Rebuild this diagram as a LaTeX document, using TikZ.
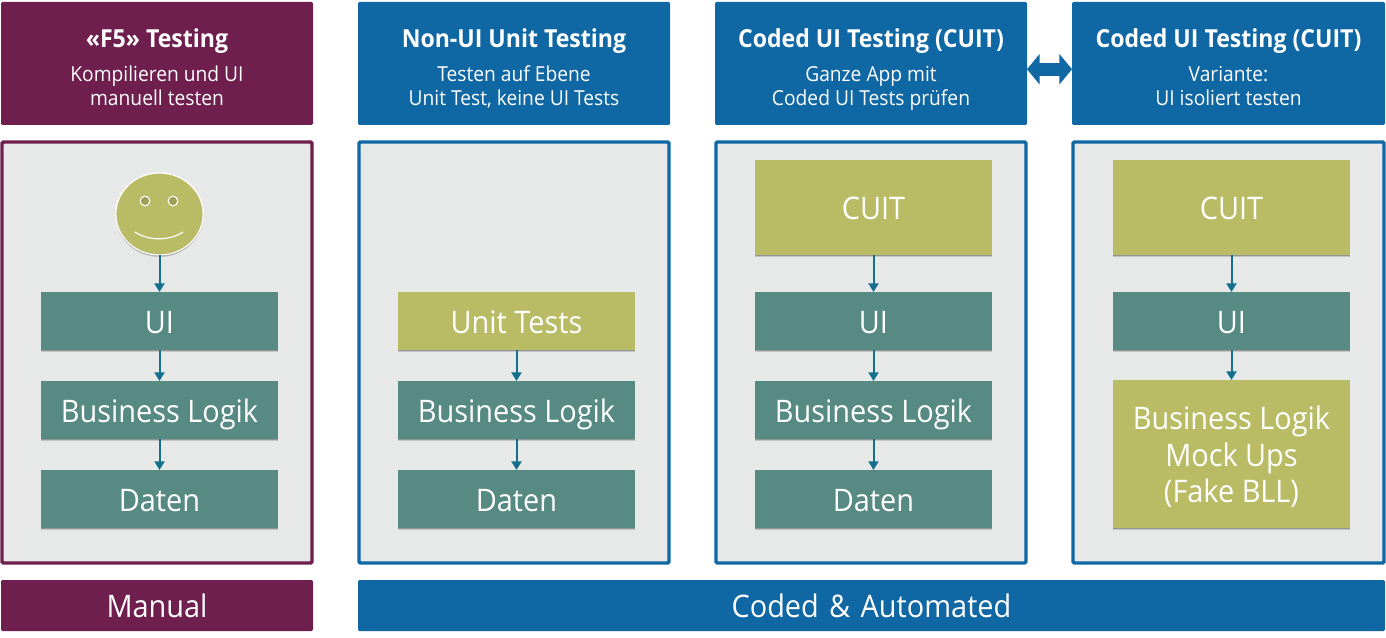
\documentclass[tikz,border=0pt]{standalone}
\usepackage{fontspec}
\setmainfont[FakeStretch=0.93]{Open Sans}
\usetikzlibrary{shadows,shapes.geometric,arrows.meta}
\definecolor{wine}{HTML}{6E1F4E}
\definecolor{navy}{HTML}{0F67A4}
\definecolor{panelgrey}{HTML}{E7E9E9}
\definecolor{tealbox}{HTML}{568A82}
\definecolor{olive}{HTML}{B9BC65}
\definecolor{linkc}{HTML}{14708C}
\newcommand{\boxat}[7]{%
  \node[#6,minimum width={(#4-#2)*0.75pt},minimum height={(#5-#3)*0.75pt}] (#1) at ({(#2+#4)/2},{(#3+#5)/2}) {#7};}
\newcommand{\htxt}[3]{\vbox{\offinterlineskip\halign{\hfil##\hfil\cr
  \rule{0pt}{20.25pt}\fontsize{18.6}{22}\selectfont\textbf{\smash{#1}}\cr
  \rule{0pt}{25.5pt}\fontsize{15.5}{18}\selectfont\smash{#2}\cr
  \rule{0pt}{18pt}\fontsize{15.5}{18}\selectfont\smash{#3}\cr}}}
\tikzset{
  plainbox/.style={inner sep=0pt,outer sep=0pt,text=white,align=center},
  headerbox/.style={plainbox,rounded corners=1pt},
  headwine/.style={headerbox,fill=wine},
  headnavy/.style={headerbox,fill=navy},
  panelbox/.style={plainbox,fill=panelgrey,line width=2.6pt,rounded corners=1pt},
  softshadow/.style={drop shadow={shadow xshift=0pt,shadow yshift=-0.8pt,opacity=.25,fill=black},
    drop shadow={shadow xshift=0pt,shadow yshift=-1.6pt,opacity=.15,fill=black}},
  layerbase/.style={plainbox,font=\fontsize{23.3}{27.5}\selectfont,softshadow},
  layerbox/.style={layerbase,text height=18pt,text depth=0pt},
  tealayer/.style={layerbox,fill=tealbox},
  olivelayer/.style={layerbox,fill=olive},
  olivemulti/.style={layerbase,fill=olive},
  linkarrow/.style={draw=linkc,line width=1.5pt,-{Triangle[length=6.5pt,width=7.5pt]}},
  swaparrow/.style={draw=navy,line width=9.75pt,
    {Triangle[length=9.5pt,width=22.5pt]}-{Triangle[length=9.5pt,width=22.5pt]}},
  footbox/.style={headerbox,font=\fontsize{23.3}{27.5}\selectfont,text height=18pt,text depth=0pt},
}
\begin{document}
\begin{tikzpicture}[x=0.75pt,y=-0.75pt]
\useasboundingbox (0,0) rectangle (1386,638);
% headers
\boxat{h1}{1}{2}{313}{125}{headwine}{\htxt{«F5» Testing}{Kompilieren und UI}{manuell testen}}
\boxat{h2}{358}{2}{670}{125}{headnavy}{\htxt{Non-UI Unit Testing}{Testen auf Ebene}{Unit Test, keine UI Tests}}
\boxat{h3}{715}{2}{1027}{125}{headnavy}{\htxt{Coded UI Testing (CUIT)}{Ganze App mit}{Coded UI Tests prüfen}}
\boxat{h4}{1072}{2}{1385}{125}{headnavy}{\htxt{Coded UI Testing (CUIT)}{Variante:}{UI isoliert testen}}
\draw[swaparrow] ([yshift=-4.3pt]h3.east) -- ([yshift=-4.3pt]h4.west);
% panels
\boxat{p1}{2}{142}{312}{563}{panelbox,draw=wine}{}
\boxat{p2}{359}{142}{669}{563}{panelbox,draw=navy}{}
\boxat{p3}{716}{142}{1026}{563}{panelbox,draw=navy}{}
\boxat{p4}{1073}{142}{1384}{563}{panelbox,draw=navy}{}
% column 1
\node[ellipse,fill=olive,draw=white,line width=.9pt,inner sep=0pt,outer sep=0pt,minimum width=65.5pt,minimum height=61.5pt,softshadow] (smile) at (159.5,214) {};
\node[circle,fill=olive!85!black,draw=white,line width=.8pt,inner sep=0pt,minimum size=7.2pt] (eyeL) at (145,201) {};
\node[circle,fill=olive!85!black,draw=white,line width=.8pt,inner sep=0pt,minimum size=7.2pt] (eyeR) at (173,201) {};
\draw[white,line width=.9pt] (135,232) .. controls (148,241) and (170,241) .. (183,232);
\boxat{a1}{41}{292}{278}{350}{tealayer}{UI}
\boxat{a2}{41}{381}{278}{439}{tealayer}{Business Logik}
\boxat{a3}{41}{470}{278}{528}{tealayer}{Daten}
% column 2
\boxat{b1}{398}{292}{635}{350}{olivelayer}{Unit Tests}
\boxat{b2}{398}{381}{635}{439}{tealayer}{Business Logik}
\boxat{b3}{398}{470}{635}{528}{tealayer}{Daten}
% column 3
\boxat{c0}{755}{160}{992}{255}{olivelayer}{CUIT}
\boxat{c1}{755}{292}{992}{350}{tealayer}{UI}
\boxat{c2}{755}{381}{992}{439}{tealayer}{Business Logik}
\boxat{c3}{755}{470}{992}{528}{tealayer}{Daten}
% column 4
\boxat{d0}{1113}{160}{1350}{255}{olivelayer}{CUIT}
\boxat{d1}{1113}{292}{1350}{350}{tealayer}{UI}
\boxat{d2}{1113}{380}{1350}{528}{olivemulti}{\rule{0pt}{22pt}Business Logik\\Mock Ups\\(Fake BLL)}
% connectors
\draw[linkarrow] (smile.south) -- (a1.north);
\draw[linkarrow] (a1) -- (a2);
\draw[linkarrow] (a2) -- (a3);
\draw[linkarrow] (b1) -- (b2);
\draw[linkarrow] (b2) -- (b3);
\draw[linkarrow] (c0) -- (c1);
\draw[linkarrow] (c1) -- (c2);
\draw[linkarrow] (c2) -- (c3);
\draw[linkarrow] (d0) -- (d1);
\draw[linkarrow] (d1) -- (d2);
% footers
\boxat{f1}{1}{580}{313}{631}{footbox,fill=wine}{Manual}
\boxat{f2}{358}{580}{1385}{631}{footbox,fill=navy}{Coded\,\,\&\,\,Automated}
\end{tikzpicture}
\end{document}
